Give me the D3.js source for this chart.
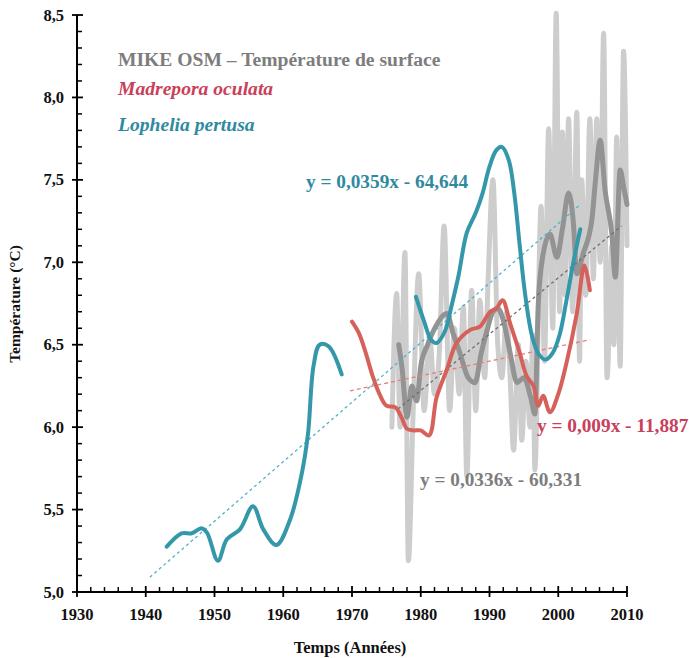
<!DOCTYPE html>
<html>
<head>
<meta charset="utf-8">
<script src="https://cdn.jsdelivr.net/npm/d3@7"></script>
<style>
  html, body { margin: 0; padding: 0; background: #fff; }
  svg text { font-family: "Liberation Serif", "Times New Roman", serif; font-weight: bold; }
</style>
</head>
<body>
<svg id="chart" width="689" height="658"></svg>
<script>
// ---- Data ----
const xTicks = [1930, 1940, 1950, 1960, 1970, 1980, 1990, 2000, 2010];
const yTicks = [5.0, 5.5, 6.0, 6.5, 7.0, 7.5, 8.0, 8.5];

// MIKE OSM surface temperature (raw, light grey)
const osmYears = [1975.8,1976.5,1977.0,1977.7,1978.2,1978.9,1979.7,1980.5,1981.3,1982.0,1982.7,1983.4,1984.2,1984.9,1985.6,1986.2,1986.7,1987.4,1988.0,1988.6,1989.3,1989.8,1990.5,1991.2,1991.8,1992.5,1993.0,1993.5,1994.2,1994.7,1995.3,1995.9,1996.3,1996.6,1997.5,1998.0,1998.6,1999.2,1999.7,2000.2,2000.6,2001.0,2001.5,2002.1,2002.7,2003.1,2003.4,2004.0,2004.6,2005.1,2005.6,2006.1,2006.6,2007.1,2007.8,2008.1,2008.5,2009.0,2009.5,2010.0];
const osmValues = [6.0,6.81,6.0,7.06,5.19,6.1,6.93,6.1,6.55,6.2,6.45,7.22,6.1,6.6,6.2,6.73,5.70,6.83,6.1,6.77,6.3,6.9,7.50,6.5,6.3,6.7,6.3,5.86,6.5,5.92,6.4,6.0,6.56,5.74,7.34,6.4,7.81,6.6,8.51,6.7,7.79,6.8,7.87,6.7,7.91,6.4,7.50,6.8,7.87,6.9,7.87,7.0,8.39,6.3,7.1,6.5,7.76,6.37,8.28,7.1];

// MIKE OSM smoothed (dark grey)
const osmSmoothYears = [1976.8,1977.3,1978.0,1978.7,1979.4,1980.0,1981.0,1982.3,1983.8,1984.7,1985.7,1986.9,1987.9,1988.8,1989.6,1990.5,1991.2,1992.0,1993.0,1994.0,1995.0,1996.0,1996.6,1997.1,1997.8,1998.8,1999.8,2000.6,2001.5,2002.2,2002.7,2003.6,2004.9,2005.4,2006.1,2006.8,2007.8,2008.3,2009.0,2009.5,2010.0];
const osmSmoothValues = [6.5,6.35,6.06,6.25,6.16,6.37,6.5,6.62,6.69,6.57,6.45,6.3,6.27,6.45,6.58,6.7,6.72,6.65,6.45,6.27,6.3,6.18,6.08,6.75,7.05,7.17,7.03,7.2,7.42,7.24,6.93,7.05,7.26,7.49,7.74,7.44,7.17,6.91,7.56,7.46,7.35];

// Madrepora oculata
const madYears = [1970,1971,1972,1973,1974,1975,1976.3,1977.2,1978,1979,1980,1981.2,1982.3,1983.8,1985.2,1987.2,1988.6,1990.1,1991,1991.9,1993,1994.4,1995.4,1996.4,1997.1,1997.8,1998.8,2000,2001.2,2002.7,2003.8,2004.6];
const madValues = [6.64,6.57,6.45,6.31,6.2,6.13,6.12,6.06,5.99,5.98,5.98,5.95,6.18,6.35,6.51,6.59,6.61,6.70,6.72,6.77,6.63,6.45,6.31,6.25,6.13,6.19,6.09,6.2,6.39,6.69,6.98,6.83];

// Lophelia pertusa (two segments)
const lophYears1 = [1943.05,1945.2,1946.7,1948.1,1948.9,1950.5,1951.8,1953.7,1955.6,1957.1,1959.0,1961.0,1962.7,1963.6,1964.4,1965.3,1966.6,1968.5];
const lophValues1 = [5.275,5.356,5.356,5.386,5.36,5.19,5.32,5.38,5.52,5.38,5.285,5.44,5.72,5.96,6.37,6.50,6.49,6.32];
const lophYears2 = [1979.3,1980.5,1981.5,1982.3,1983.5,1984.5,1985.5,1986.7,1988,1989,1990,1991,1991.8,1992.8,1993.6,1994.4,1995.2,1996.2,1997.2,1998.2,1999.2,2000.2,2001.2,2002.2,2003.2];
const lophValues2 = [6.79,6.64,6.53,6.51,6.58,6.74,6.92,7.18,7.30,7.42,7.58,7.68,7.70,7.62,7.42,7.1,6.8,6.55,6.44,6.41,6.45,6.56,6.77,7.0,7.2];

// Trend lines (end points as drawn)
const lophTrendYears = [1940.6, 2003.2];
const lophTrendValues = [5.09, 7.35];
const madTrendYears = [1969.7, 2004.6];
const madTrendValues = [6.22, 6.53];
const osmTrendYears = [1976.7, 2009.2];
const osmTrendValues = [6.11, 7.22];

const legendLabels = ["MIKE OSM \u2013 Température de surface", "Madrepora oculata", "Lophelia pertusa"];
const equationLabels = ["y = 0,0359x - 64,644", "y = 0,009x - 11,887", "y = 0,0336x - 60,331"];

// ---- Chart ----
const svg = d3.select("#chart");
const x = d3.scaleLinear().domain([1930, 2010]).range([77, 627]);
const y = d3.scaleLinear().domain([5, 8.5]).range([592, 15]);

const zip = (xs, ys) => xs.map((d, i) => [d, ys[i]]);
const line = (curve) => d3.line().x(d => x(d[0])).y(d => y(d[1])).curve(curve);

const colors = {
  light: "#cdcdcd", dark: "#939393", mad: "#d6615b", loph: "#3597aa",
  lophTrend: "#4fb2c8", madTrend: "#e58078", osmTrend: "#6e6e6e",
  legendGray: "#7d7d7d", legendRed: "#c8405a", legendTeal: "#2f8aa0"
};

// light grey raw series
svg.append("path").datum(zip(osmYears, osmValues))
  .attr("d", line(d3.curveMonotoneX)).attr("fill", "none")
  .attr("stroke", colors.light).attr("stroke-width", 5)
  .attr("stroke-linejoin", "round").attr("stroke-linecap", "round");

// dark grey smoothed
svg.append("path").datum(zip(osmSmoothYears, osmSmoothValues))
  .attr("d", line(d3.curveMonotoneX)).attr("fill", "none")
  .attr("stroke", colors.dark).attr("stroke-width", 5)
  .attr("stroke-linejoin", "round").attr("stroke-linecap", "round");

// trend lines
function trend(xs, ys, color, dash) {
  svg.append("path").datum(zip(xs, ys))
    .attr("d", line(d3.curveLinear)).attr("fill", "none")
    .attr("stroke", color).attr("stroke-width", 1.3)
    .attr("stroke-dasharray", dash);
}
trend(osmTrendYears, osmTrendValues, colors.osmTrend, "3,3");
trend(madTrendYears, madTrendValues, colors.madTrend, "4,3");
trend(lophTrendYears, lophTrendValues, colors.lophTrend, "3,3");

// Lophelia
[zip(lophYears1, lophValues1), zip(lophYears2, lophValues2)].forEach(seg => {
  svg.append("path").datum(seg)
    .attr("d", line(d3.curveCatmullRom.alpha(0.5))).attr("fill", "none")
    .attr("stroke", colors.loph).attr("stroke-width", 4)
    .attr("stroke-linejoin", "round").attr("stroke-linecap", "round");
});

// Madrepora
svg.append("path").datum(zip(madYears, madValues))
  .attr("d", line(d3.curveCatmullRom.alpha(0.5))).attr("fill", "none")
  .attr("stroke", colors.mad).attr("stroke-width", 4)
  .attr("stroke-linejoin", "round").attr("stroke-linecap", "round");

// ---- Axes ----
const axisG = svg.append("g");
// y axis
const yAxis = axisG.append("g").attr("transform", `translate(${x(1930)},0)`);
yAxis.append("line").attr("x1", 0).attr("x2", 0).attr("y1", y(8.5)).attr("y2", y(5))
  .attr("stroke", "#000").attr("stroke-width", 2);
const yMinor = d3.range(50, 86, 1).map(v => v / 10).filter(v => Math.abs(v * 2 - Math.round(v * 2)) > 1e-6);
yAxis.selectAll("line.minor").data(yMinor).join("line").attr("class", "minor")
  .attr("x1", 0).attr("x2", 5).attr("y1", d => y(d)).attr("y2", d => y(d))
  .attr("stroke", "#000").attr("stroke-width", 1.5);
yAxis.selectAll("line.major").data(yTicks).join("line").attr("class", "major")
  .attr("x1", -5).attr("x2", 6).attr("y1", d => y(d)).attr("y2", d => y(d))
  .attr("stroke", "#000").attr("stroke-width", 1.8);
yAxis.selectAll("text").data(yTicks).join("text")
  .attr("x", -13).attr("y", d => y(d) + 5.5).attr("text-anchor", "end")
  .attr("font-size", 16.5).attr("fill", "#111")
  .text(d => d.toFixed(1).replace(".", ","));

// x axis
const xAxis = axisG.append("g").attr("transform", `translate(0,${y(5)})`);
xAxis.append("line").attr("x1", x(1930)).attr("x2", x(2010)).attr("y1", 0).attr("y2", 0)
  .attr("stroke", "#000").attr("stroke-width", 2);
const xMinor = d3.range(1932, 2010, 2).filter(v => v % 10 !== 0);
xAxis.selectAll("line.minor").data(xMinor).join("line").attr("class", "minor")
  .attr("x1", d => x(d)).attr("x2", d => x(d)).attr("y1", 0).attr("y2", -5)
  .attr("stroke", "#000").attr("stroke-width", 1.5);
xAxis.selectAll("line.major").data(xTicks).join("line").attr("class", "major")
  .attr("x1", d => x(d)).attr("x2", d => x(d)).attr("y1", -6).attr("y2", 5)
  .attr("stroke", "#000").attr("stroke-width", 1.8);
xAxis.selectAll("text").data(xTicks).join("text")
  .attr("x", d => x(d)).attr("y", 28).attr("text-anchor", "middle")
  .attr("font-size", 16.5).attr("fill", "#111").text(d => d);

// axis titles
svg.append("text").attr("transform", `translate(20,304) rotate(-90)`)
  .attr("text-anchor", "middle").attr("font-size", 15.5).attr("fill", "#111")
  .text("Température (°C)");
svg.append("text").attr("x", 350).attr("y", 653).attr("text-anchor", "middle")
  .attr("font-size", 16.5).attr("fill", "#111").text("Temps (Années)");

// legend
const legendColors = [colors.legendGray, colors.legendRed, colors.legendTeal];
const legendY = [66, 95, 131];
legendLabels.forEach((t, i) => {
  svg.append("text").attr("x", 118).attr("y", legendY[i])
    .attr("font-size", 19.6).attr("fill", legendColors[i])
    .attr("font-style", i > 0 ? "italic" : "normal").text(t);
});

// equations
const eqPos = [[306, 188, colors.legendTeal], [537, 432, colors.legendRed], [420, 486, colors.legendGray]];
equationLabels.forEach((t, i) => {
  svg.append("text").attr("x", eqPos[i][0]).attr("y", eqPos[i][1])
    .attr("font-size", 19.3).attr("fill", eqPos[i][2]).text(t);
});
</script>
</body>
</html>
